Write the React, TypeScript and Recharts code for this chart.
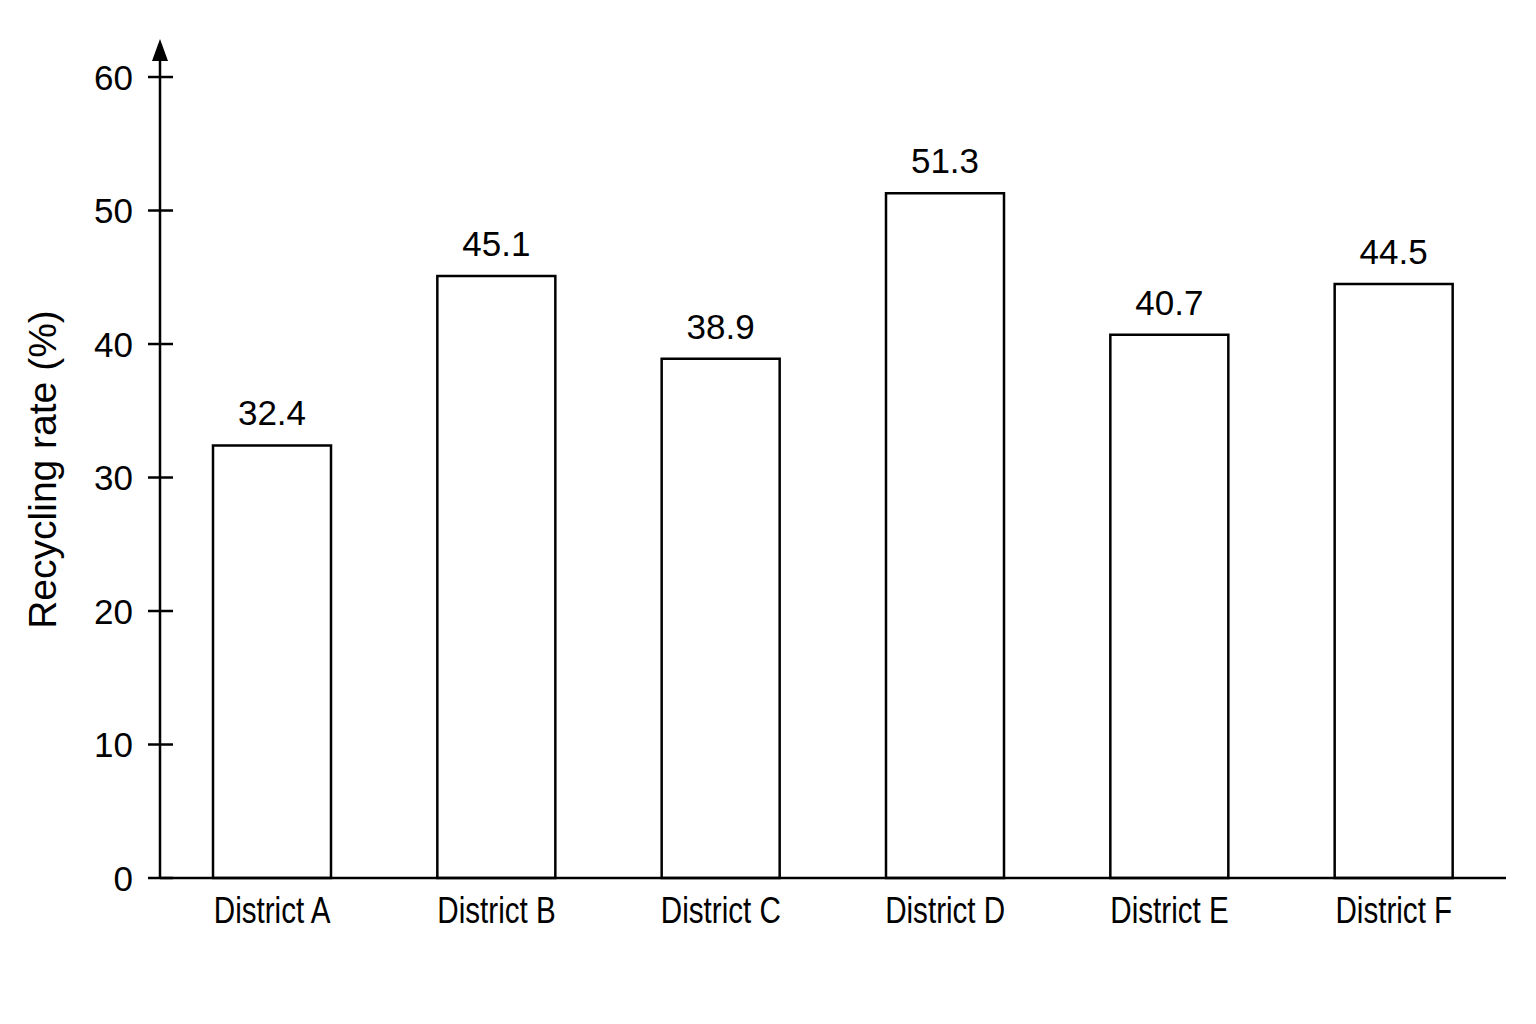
import { BarChart, Bar, XAxis, YAxis, LabelList } from 'recharts';

const districts = ['District A', 'District B', 'District C', 'District D', 'District E', 'District F'];
const recyclingRates = [32.4, 45.1, 38.9, 51.3, 40.7, 44.5];
const yTicks = [0, 10, 20, 30, 40, 50, 60];

const data = districts.map((name, i) => ({ name, rate: recyclingRates[i] }));

const FONT = '"Liberation Sans", Arial, sans-serif';

// y ticks cross the axis line, so draw them by hand
function YTick({ x, y, payload }: any) {
    return (
        <g>
            <line x1={x - 12} x2={x + 13} y1={y} y2={y} stroke="#000" strokeWidth={2.5} />
            <text x={x - 27} y={y} dy="0.36em" textAnchor="end" fontSize={35} fontFamily={FONT} fill="#000">
                {payload.value}
            </text>
        </g>
    );
}

// category labels in the reference use a condensed face; squeeze horizontally
function XTick({ x, y, payload }: any) {
    return (
        <g transform={`translate(${x},${y})`}>
            <text transform="scale(0.8,1)" dy="0.71em" textAnchor="middle" fontSize={37} fontFamily={FONT} fill="#000">
                {payload.value}
            </text>
        </g>
    );
}

export default function App() {
    return (
        <div style={{ position: 'absolute', left: 0, top: 0, width: 1536, height: 1024, background: '#fff' }}>
            <svg width={0} height={0} style={{ position: 'absolute' }}>
                <defs>
                    <marker id="yArrow" markerUnits="userSpaceOnUse" markerWidth={24} markerHeight={18}
                        refX={0} refY={8} orient="auto-start-reverse">
                        <path d="M0,0 L22,8 L0,16 z" fill="#000" />
                    </marker>
                </defs>
            </svg>
            <BarChart width={1536} height={1024} data={data}
                margin={{ top: 61, right: 30, bottom: 86, left: 0 }}>
                <XAxis dataKey="name" height={60} tickLine={false} tickSize={0} tickMargin={19}
                    axisLine={{ stroke: '#000', strokeWidth: 2.5 }}
                    tick={<XTick />} />
                <YAxis width={160} domain={[0, 61.2]} ticks={yTicks} tickLine={false} tickSize={0} tickMargin={0}
                    axisLine={{ stroke: '#000', strokeWidth: 2.5, markerStart: 'url(#yArrow)' }}
                    tick={<YTick />}
                    label={{ value: 'Recycling rate (%)', angle: -90, position: 'insideLeft', offset: 42,
                        style: { textAnchor: 'middle', fontSize: 39, fontFamily: FONT, fill: '#000' } }} />
                <Bar dataKey="rate" barSize={118} fill="#fff" stroke="#000" strokeWidth={2.5} isAnimationActive={false}>
                    <LabelList dataKey="rate" position="top" offset={20}
                        style={{ fontSize: 35, fontFamily: FONT, fill: '#000' }} />
                </Bar>
            </BarChart>
        </div>
    );
}
